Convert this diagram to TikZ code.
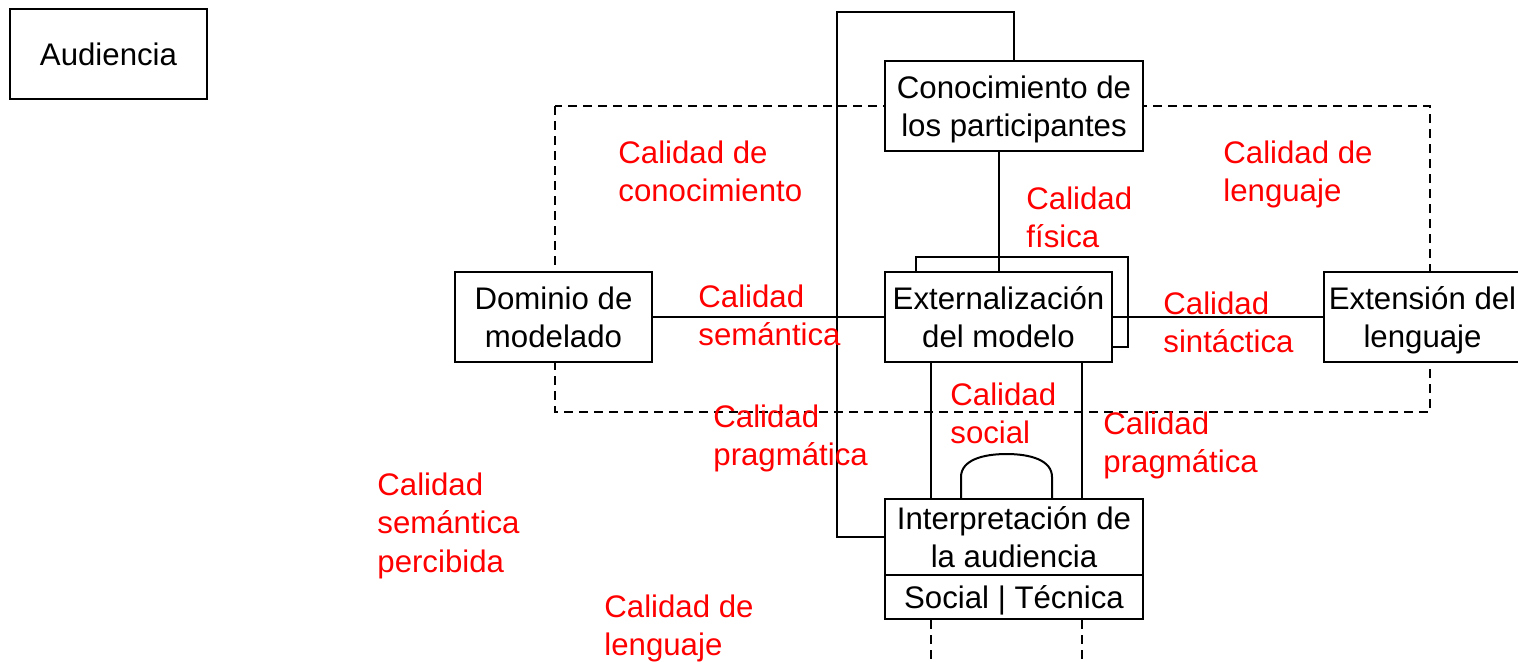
\documentclass[tikz,border=0pt]{standalone}
\usepackage{fontspec}
\setmainfont{Liberation Sans}
\usetikzlibrary{positioning}
\tikzstyle{caja} = [draw,line width=1pt,rectangle,fill=white,align=center,inner sep=0,minimum height=45pt,text depth=0pt]
\tikzstyle{calidad} = [text=red,align=left,anchor=base west,inner sep=0]
\tikzstyle{enlace} = [-,line width=1pt]
\tikzstyle{frontera} = [line width=1.4pt,dash pattern=on 4.5pt off 3pt]
\def \ancho {98.5pt}
\def \anchoint {129pt}

\begin{document}
\begin{tikzpicture}[x=0.5pt,y=-0.5pt,font=\fontsize{15.6}{19.25}\selectfont]
  \useasboundingbox (0,0) rectangle (1518,661);
  % zona del modelo
  \draw[frontera] (555,106) rectangle (1430,412);
  \node[caja,minimum width=\ancho] (aud) at (108.5,54) {Audiencia};
  \node[caja,minimum width=\anchoint] (conoc) at (1014,106) {Conocimiento de\\los participantes};
  \node[caja,minimum width=106pt] (ext2) at (1022,302) {};
  \node[caja,minimum width=113.5pt] (ext) at (998.5,317) {Externalización\\del modelo};
  \node[caja,minimum width=\ancho] (dom) at (553.5,317) {Dominio de\\modelado};
  \node[caja,minimum width=\ancho] (len) at (1422.5,317) {Extensión del\\lenguaje};
  \node[caja,minimum width=\anchoint,minimum height=38pt] (interp) at (1014,537) {Interpretación de\\la audiencia};
  \node[caja,minimum width=\anchoint,minimum height=22pt,below=-1pt of interp] (tipo) {Social | Técnica};
  % enlaces
  \coordinate (esq) at (837,12);
  \draw[enlace] (conoc.north) |- (esq) |- (interp.west);
  \draw[enlace] (ext.north) -- (ext.north |- conoc.south);
  \draw[enlace] (dom) -- (ext);
  \draw[enlace] (ext) -- (len);
  \foreach \x in {931,1082} {
    \draw[enlace] (ext.south -| \x,0) -- (interp.north -| \x,0);
    \draw[frontera] (tipo.south -| \x,0) -- (\x,661);
  }
  \draw[enlace] (interp.north -| 961,0) -- (961,477) .. controls (961,460) and (983,454) .. (1006.5,454)
    .. controls (1030,454) and (1052,460) .. (1052,477) -- (interp.north -| 1052,0);
  % calidades (base = ultima linea)
  \node[calidad] (qcon) at (618,201.5) {Calidad de\\conocimiento};
  \node[calidad] (qlen) at (1223,201.5) {Calidad de\\lenguaje};
  \node[calidad] (qfis) at (1026,247.5) {Calidad\\física};
  \node[calidad] (qsem) at (698,345.5) {Calidad\\semántica};
  \node[calidad] (qsin) at (1163,352.5) {Calidad\\sintáctica};
  \node[calidad] (qpra) at (713,465.5) {Calidad\\pragmática};
  \node[calidad] (qsoc) at (950,443.5) {Calidad\\social};
  \node[calidad] (qpra2) at (1103,472.5) {Calidad\\pragmática};
  \node[calidad] (qper) at (377,572) {Calidad\\semántica\\percibida};
  \node[calidad] (qlen2) at (604,655.5) {Calidad de\\lenguaje};
\end{tikzpicture}
\end{document}
